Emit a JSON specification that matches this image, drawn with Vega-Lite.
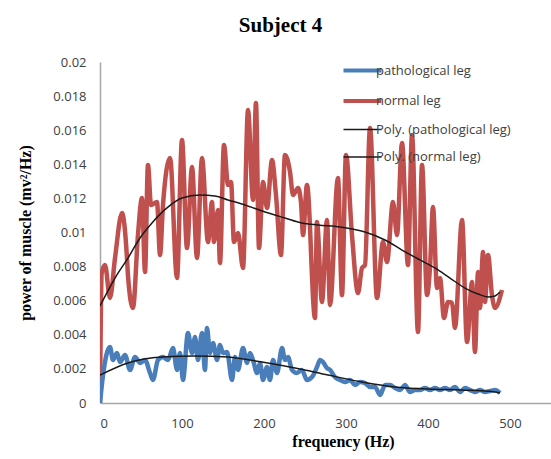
{
  "$schema": "https://vega.github.io/schema/vega-lite/v6.json",
  "autosize": {"type": "none"},
  "width": 451,
  "height": 341,
  "padding": {"left": 100, "top": 62, "right": 0, "bottom": 56},
  "background": "white",
  "title": {"text": "Subject 4", "font": "Liberation Serif", "fontSize": 21, "fontWeight": "bold", "color": "#000000", "dx": -45, "dy": -16},
  "datasets": {
    "normal": [
      {"f": 0, "v": 0}, {"f": 2, "v": 0.0076}, {"f": 6.1, "v": 0.0081}, {"f": 12.2, "v": 0.00616}, {"f": 18.3, "v": 0.0085},
      {"f": 26.8, "v": 0.01114}, {"f": 32.9, "v": 0.0085}, {"f": 34.1, "v": 0.0075}, {"f": 40.2, "v": 0.00557}, {"f": 46.3, "v": 0.00985},
      {"f": 51.2, "v": 0.01202}, {"f": 54.9, "v": 0.00768}, {"f": 58.5, "v": 0.01396}, {"f": 62.2, "v": 0.01161}, {"f": 69.5, "v": 0.01179},
      {"f": 73.2, "v": 0.00868}, {"f": 76.8, "v": 0.01161}, {"f": 85.4, "v": 0.01437}, {"f": 93.9, "v": 0.00733}, {"f": 100, "v": 0.01542},
      {"f": 106.1, "v": 0.00909}, {"f": 112.2, "v": 0.01384}, {"f": 118.3, "v": 0.0085}, {"f": 124.4, "v": 0.01437}, {"f": 131.7, "v": 0.00944},
      {"f": 136.6, "v": 0.01179}, {"f": 139, "v": 0.00944}, {"f": 143.9, "v": 0.01132}, {"f": 146.3, "v": 0.00821}, {"f": 151.2, "v": 0.01513},
      {"f": 156.1, "v": 0.01279}, {"f": 159.8, "v": 0.01296}, {"f": 163.4, "v": 0.00944}, {"f": 168.3, "v": 0.00997}, {"f": 174.4, "v": 0.00792},
      {"f": 180.5, "v": 0.01718}, {"f": 186.6, "v": 0.01191}, {"f": 190.2, "v": 0.0176}, {"f": 193.9, "v": 0.00909}, {"f": 198.8, "v": 0.01296},
      {"f": 203.7, "v": 0.01144}, {"f": 209.8, "v": 0.01425}, {"f": 214.6, "v": 0.0122}, {"f": 220.7, "v": 0.00868}, {"f": 225.6, "v": 0.01455},
      {"f": 231.7, "v": 0.01355}, {"f": 235.4, "v": 0.0122}, {"f": 241.5, "v": 0.01261}, {"f": 245.1, "v": 0.01179}, {"f": 247.6, "v": 0.00985},
      {"f": 252.4, "v": 0.01279}, {"f": 262.2, "v": 0.00499}, {"f": 264.6, "v": 0.01062}, {"f": 270.7, "v": 0.00592}, {"f": 276.8, "v": 0.01073},
      {"f": 280.5, "v": 0.00575}, {"f": 290.2, "v": 0.0132}, {"f": 295.1, "v": 0.00633}, {"f": 300, "v": 0.01455}, {"f": 307.3, "v": 0.00985},
      {"f": 314.6, "v": 0.00645}, {"f": 319.5, "v": 0.00792}, {"f": 323.2, "v": 0.00809}, {"f": 329.3, "v": 0.01613}, {"f": 337.8, "v": 0.00616},
      {"f": 345.1, "v": 0.00944}, {"f": 350, "v": 0.00827}, {"f": 357.3, "v": 0.01179}, {"f": 362.2, "v": 0.00985}, {"f": 368.3, "v": 0.01525},
      {"f": 375.6, "v": 0.00809}, {"f": 380.5, "v": 0.01572}, {"f": 387.8, "v": 0.00416}, {"f": 392.7, "v": 0.01396}, {"f": 398.8, "v": 0.00633},
      {"f": 402.4, "v": 0.00792}, {"f": 406.1, "v": 0.0115}, {"f": 411, "v": 0.00674}, {"f": 414.6, "v": 0.00733}, {"f": 419.5, "v": 0.00499},
      {"f": 424.4, "v": 0.00592}, {"f": 429.3, "v": 0.00587}, {"f": 432.9, "v": 0.0044}, {"f": 441.5, "v": 0.01073}, {"f": 447.6, "v": 0.00358},
      {"f": 453.7, "v": 0.0071}, {"f": 457.3, "v": 0.00299}, {"f": 461, "v": 0.00768}, {"f": 463.4, "v": 0.00557}, {"f": 467.1, "v": 0.00886},
      {"f": 469.5, "v": 0.00592}, {"f": 473.2, "v": 0.00868}, {"f": 478, "v": 0.00633}, {"f": 481.7, "v": 0.00557}, {"f": 490.2, "v": 0.00663}
    ],
    "patho": [
      {"f": 0, "v": 0}, {"f": 3.7, "v": 0.00164}, {"f": 12.2, "v": 0.00328}, {"f": 15.9, "v": 0.00252}, {"f": 20.7, "v": 0.00293},
      {"f": 24.4, "v": 0.0024}, {"f": 30.5, "v": 0.00282}, {"f": 36.6, "v": 0.00194}, {"f": 42.7, "v": 0.0027}, {"f": 48.8, "v": 0.00235},
      {"f": 54.9, "v": 0.00252}, {"f": 61, "v": 0.00176}, {"f": 64.6, "v": 0.00135}, {"f": 70.7, "v": 0.00252}, {"f": 76.8, "v": 0.0027},
      {"f": 82.9, "v": 0.00252}, {"f": 89, "v": 0.00323}, {"f": 93.9, "v": 0.00194}, {"f": 97.6, "v": 0.00293}, {"f": 101.2, "v": 0.00135},
      {"f": 107.3, "v": 0.00411}, {"f": 112.2, "v": 0.00293}, {"f": 115.9, "v": 0.00387}, {"f": 119.5, "v": 0.00252}, {"f": 124.4, "v": 0.00411},
      {"f": 128, "v": 0.00194}, {"f": 130.5, "v": 0.0044}, {"f": 134.1, "v": 0.00293}, {"f": 137.8, "v": 0.00352}, {"f": 142.7, "v": 0.00252},
      {"f": 146.3, "v": 0.0034}, {"f": 150, "v": 0.00293}, {"f": 154.9, "v": 0.00299}, {"f": 161, "v": 0.00135}, {"f": 164.6, "v": 0.0027},
      {"f": 168.3, "v": 0.00194}, {"f": 174.4, "v": 0.00323}, {"f": 179.3, "v": 0.00235}, {"f": 182.9, "v": 0.00293}, {"f": 186.6, "v": 0.00252},
      {"f": 191.5, "v": 0.00176}, {"f": 195.1, "v": 0.00235}, {"f": 198.8, "v": 0.00135}, {"f": 203.7, "v": 0.00211}, {"f": 207.3, "v": 0.00135},
      {"f": 211, "v": 0.00252}, {"f": 215.9, "v": 0.00176}, {"f": 222, "v": 0.00323}, {"f": 225.6, "v": 0.00252}, {"f": 229.3, "v": 0.0027},
      {"f": 234.1, "v": 0.00194}, {"f": 240.2, "v": 0.00176}, {"f": 246.3, "v": 0.00194}, {"f": 252.4, "v": 0.00135}, {"f": 258.5, "v": 0.00152},
      {"f": 264.6, "v": 0.00211}, {"f": 268.3, "v": 0.00252}, {"f": 272, "v": 0.0024}, {"f": 276.8, "v": 0.00205}, {"f": 280.5, "v": 0.00194},
      {"f": 286.6, "v": 0.00152}, {"f": 292.7, "v": 0.00135}, {"f": 298.8, "v": 0.00123}, {"f": 304.9, "v": 0.00135}, {"f": 311, "v": 0.00106},
      {"f": 317.1, "v": 0.00123}, {"f": 323.2, "v": 0.00117}, {"f": 329.3, "v": 0.00094}, {"f": 335.4, "v": 0.00094}, {"f": 341.5, "v": 0.00047},
      {"f": 347.6, "v": 0.00106}, {"f": 353.7, "v": 0.00106}, {"f": 359.8, "v": 0.00088}, {"f": 365.9, "v": 0.00076}, {"f": 372, "v": 0.00106},
      {"f": 378, "v": 0.00065}, {"f": 384.1, "v": 0.00076}, {"f": 390.2, "v": 0.00076}, {"f": 396.3, "v": 0.00088}, {"f": 402.4, "v": 0.00076},
      {"f": 408.5, "v": 0.00088}, {"f": 414.6, "v": 0.00076}, {"f": 420.7, "v": 0.00088}, {"f": 426.8, "v": 0.00076}, {"f": 432.9, "v": 0.00094},
      {"f": 439, "v": 0.00065}, {"f": 445.1, "v": 0.00088}, {"f": 451.2, "v": 0.00076}, {"f": 457.3, "v": 0.00065}, {"f": 463.4, "v": 0.00076},
      {"f": 469.5, "v": 0.00065}, {"f": 475.6, "v": 0.0007}, {"f": 481.7, "v": 0.00076}, {"f": 487.8, "v": 0.00059}
    ],
    "polyNormal": [
      {"f": 0, "v": 0.00569}, {"f": 18.3, "v": 0.00733}, {"f": 34.1, "v": 0.0085}, {"f": 48.8, "v": 0.00968}, {"f": 63.4, "v": 0.01056},
      {"f": 81.7, "v": 0.01144}, {"f": 100, "v": 0.01202}, {"f": 122, "v": 0.0122}, {"f": 140.2, "v": 0.01214}, {"f": 156.1, "v": 0.01191},
      {"f": 176.8, "v": 0.01161}, {"f": 201.2, "v": 0.0112}, {"f": 225.6, "v": 0.01085}, {"f": 246.3, "v": 0.01056}, {"f": 265.9, "v": 0.01044},
      {"f": 292.7, "v": 0.01032}, {"f": 323.2, "v": 0.01003}, {"f": 347.6, "v": 0.00956}, {"f": 368.3, "v": 0.00897}, {"f": 390.2, "v": 0.00839},
      {"f": 408.5, "v": 0.00792}, {"f": 426.8, "v": 0.00733}, {"f": 445.1, "v": 0.00674}, {"f": 461, "v": 0.00639}, {"f": 473.2, "v": 0.00622},
      {"f": 481.7, "v": 0.00628}, {"f": 487.8, "v": 0.00651}
    ],
    "polyPatho": [
      {"f": 0, "v": 0.00164}, {"f": 34.1, "v": 0.00235}, {"f": 75.6, "v": 0.0027}, {"f": 115.9, "v": 0.00276}, {"f": 156.1, "v": 0.0027},
      {"f": 197.6, "v": 0.0024}, {"f": 237.8, "v": 0.00205}, {"f": 278, "v": 0.00164}, {"f": 319.5, "v": 0.00123}, {"f": 359.8, "v": 0.00094},
      {"f": 400, "v": 0.00082}, {"f": 441.5, "v": 0.00076}, {"f": 481.7, "v": 0.00065}, {"f": 487.8, "v": 0.00059}
    ]
  },
  "encoding": {
    "x": {"field": "f", "type": "quantitative", "scale": {"domain": [0, 550], "nice": false}, "axis": {"values": [0, 100, 200, 300, 400, 500], "title": "frequency (Hz)", "titleX": 243, "titleY": 43, "titleBaseline": "alphabetic"}},
    "y": {"field": "v", "type": "quantitative", "scale": {"domain": [0, 0.02], "nice": false}, "axis": {"values": [0, 0.002, 0.004, 0.006, 0.008, 0.01, 0.012, 0.014, 0.016, 0.018, 0.02], "format": ".3~f", "title": "power of muscle (mv²/Hz)", "titlePadding": 19, "labelOverlap": false, "labelBound": false}},
    "color": {
      "field": "series", "type": "nominal",
      "scale": {"domain": ["pathological leg", "normal leg", "Poly. (pathological leg)", "Poly. (normal leg)"], "range": ["#4a7ebb", "#c0504d", "#1a1a1a", "#1a1a1a"]},
      "legend": {
        "title": null, "orient": "none", "legendX": 256, "legendY": 2,
        "encode": {"symbols": {"update": {"strokeWidth": {"signal": "datum.index > 1 ? 1.5 : 4"}}}}
      }
    }
  },
  "layer": [
    {
      "data": {"name": "normal"},
      "transform": [{"calculate": "'normal leg'", "as": "series"}],
      "mark": {"type": "line", "clip": true, "interpolate": "monotone", "strokeWidth": 4.5}
    },
    {
      "data": {"name": "patho"},
      "transform": [{"calculate": "'pathological leg'", "as": "series"}],
      "mark": {"type": "line", "clip": true, "interpolate": "monotone", "strokeWidth": 4.5}
    },
    {
      "data": {"name": "polyNormal"},
      "transform": [{"calculate": "'Poly. (normal leg)'", "as": "series"}],
      "mark": {"type": "line", "clip": true, "interpolate": "monotone", "strokeWidth": 1.5}
    },
    {
      "data": {"name": "polyPatho"},
      "transform": [{"calculate": "'Poly. (pathological leg)'", "as": "series"}],
      "mark": {"type": "line", "clip": true, "interpolate": "monotone", "strokeWidth": 1.5}
    }
  ],
  "config": {
    "view": {"stroke": null},
    "axis": {
      "grid": false, "ticks": false, "domainColor": "#a6a6a6", "domainWidth": 1.5,
      "labelFont": "Open Sans", "labelFontSize": 13, "labelColor": "#404040", "labelPadding": 14,
      "titleFont": "Liberation Serif", "titleFontSize": 16, "titleFontWeight": "bold", "titleColor": "#000000"
    },
    "legend": {
      "symbolType": "stroke", "symbolSize": 1444, "symbolStrokeWidth": 4, "labelFont": "Open Sans", "labelFontSize": 13, "labelColor": "#404040",
      "rowPadding": 13.5, "labelOffset": 7, "padding": 0
    }
  }
}
